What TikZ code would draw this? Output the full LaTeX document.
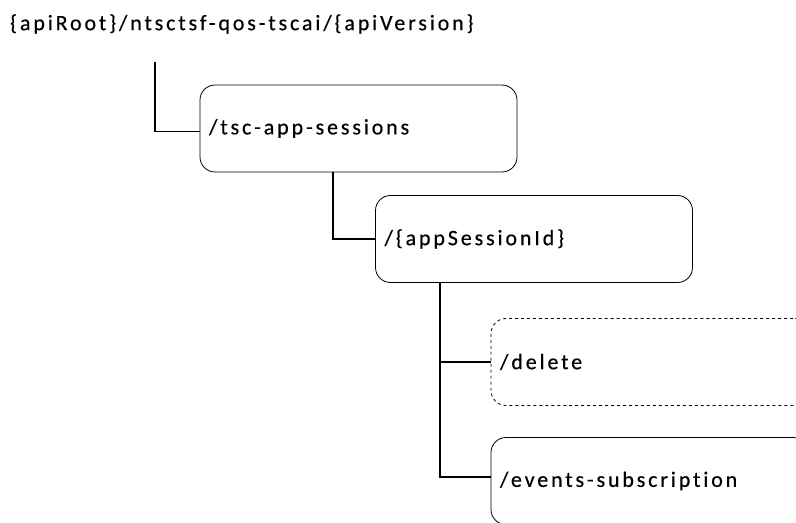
\documentclass[tikz,border=0pt]{standalone}
\usepackage{fontspec}
\setmainfont{Carlito}[LetterSpace=13,Ligatures=NoCommon,FakeBold=0.4]
\begin{document}
\begin{tikzpicture}[x=1bp,y=-1bp,
  lbl/.style={font=\fontsize{22bp}{26bp}\selectfont},
  res/.style={draw=black, line width=0.8bp, rounded corners=15bp, minimum width=317bp,
    minimum height=87bp, text width=299bp, inner xsep=9bp, align=left, lbl},
  dres/.style={res, dashed},
  conn/.style={draw=black, line width=1.8bp}]
\clip (0,0) rectangle (796,523);
\useasboundingbox (0,0) rectangle (796,523);
\node[anchor=west, lbl, inner sep=0] (root) at (10,24) {\{apiRoot\}/ntsctsf-qos-tscai/\{apiVersion\}};
\coordinate (rootc) at (155,62);
\node[res] (b1) at (358.5,128.5) {/tsc-app-sessions};
\node[res] (b2) at (534,239) {/\{appSessionId\}};
\node[dres] (b3) at (649.5,362) {/delete};
\node[res] (b4) at (649.5,481) {/events-subscription};
\draw[conn] (rootc) |- ([yshift=-3bp]b1.west);
\draw[conn] ([xshift=-25.5bp]b1.south) |- (b2.west);
\draw[conn] ([xshift=-94bp]b2.south) |- ([yshift=4bp]b4.west);
\draw[conn] ([xshift=-94bp]b2.south |- b3.west) -- (b3.west);
\end{tikzpicture}
\end{document}
